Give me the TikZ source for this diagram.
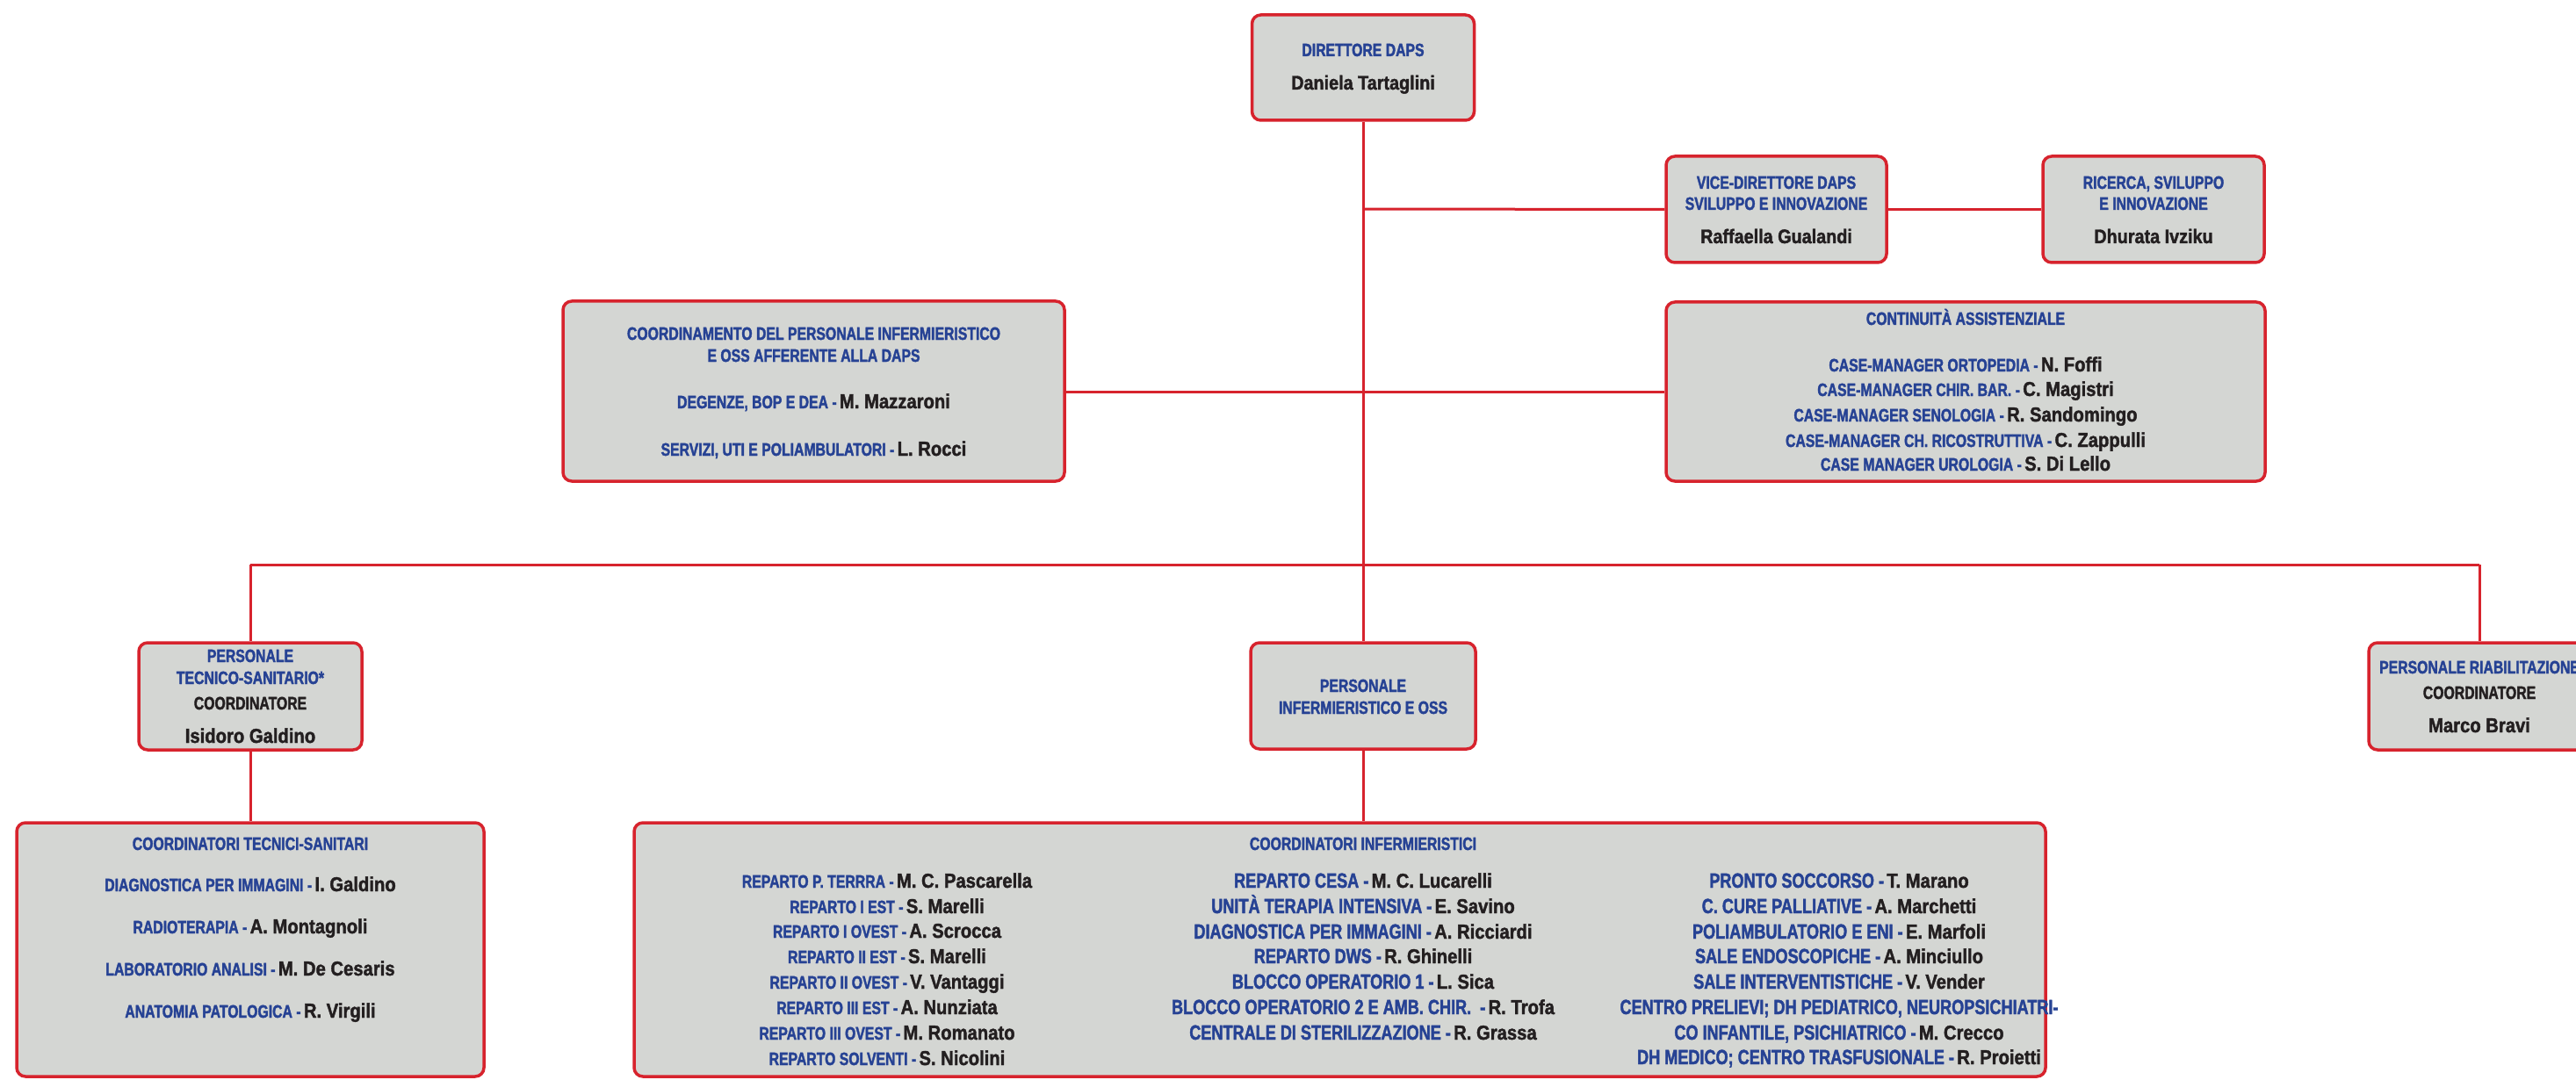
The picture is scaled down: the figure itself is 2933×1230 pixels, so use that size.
\documentclass[tikz,border=0pt]{standalone}
\usepackage{fontspec}
\newfontfamily\tfont[FakeStretch=0.77,FakeBold=1.8]{Liberation Sans Bold}
\newfontfamily\nfont[FakeStretch=0.88,FakeBold=1.6]{Liberation Sans Bold}
\definecolor{tblue}{RGB}{38,66,148}
\definecolor{tred}{RGB}{215,35,45}
\definecolor{tgray}{RGB}{212,214,211}
\definecolor{tblack}{RGB}{35,31,32}
\newcommand\tA{\tfont\fontsize{20.5}{24}\selectfont}
\newcommand\tB{\tfont\fontsize{23.5}{27}\selectfont}
\newcommand\nA{\nfont\fontsize{23}{27}\selectfont}
\newcommand\nB{\nfont\fontsize{22.5}{26}\selectfont}
\newcommand\Bl[1]{{\tA\textcolor{tblue}{#1}}}
\newcommand\Bb[1]{{\tB\textcolor{tblue}{#1}}}
\newcommand\Nm[1]{{\nA\textcolor{tblack}{#1}}}
\newcommand\Nt[1]{{\nB\textcolor{tblack}{#1}}}
\newcommand\Ck[1]{{\tA\textcolor{tblack}{#1}}}
\begin{document}
\begin{tikzpicture}[x=1pt,y=-1pt,
  box/.style={draw=tred,fill=tgray,line width=3.5pt,rounded corners=10pt,inner sep=0pt},
  link/.style={draw=tred,line width=3pt},
  txt/.style={inner sep=0pt,anchor=base}]
\useasboundingbox (0,0) rectangle (2933,1230);
\clip (0,0) rectangle (2933,1230);
\fill[white] (0,0) rectangle (2933,1230);
% boxes
\node[box,minimum width=253pt,minimum height=120pt] (dir) at (1552,77) {};
\node[box,minimum width=251pt,minimum height=121pt] (vice) at (2022.5,238.5) {};
\node[box,minimum width=252pt,minimum height=121pt] (ric) at (2452,238.5) {};
\node[box,minimum width=571pt,minimum height=205pt] (coord) at (926.5,445.5) {};
\node[box,minimum width=682pt,minimum height=204pt] (cont) at (2238,446) {};
\node[box,minimum width=254pt,minimum height=122pt] (ptec) at (285,793) {};
\node[box,minimum width=256pt,minimum height=121pt] (pinf) at (1552,792.5) {};
\node[box,minimum width=252pt,minimum height=122pt] (prib) at (2823,793) {};
\node[box,minimum width=532pt,minimum height=289pt] (ctec) at (285,1081.5) {};
\node[box,minimum width=1607pt,minimum height=289pt] (cinf) at (1525.5,1081.5) {};
% junctions
\coordinate (jv) at (1552,238);
\coordinate (jl) at (285,643);
\coordinate (jr) at (2823,643);
% connectors
\draw[link] (dir.south) -- (pinf.north);
\draw[link] (jv) -- (vice.west);
\draw[link] (vice.east) -- (ric.west);
\draw[link] (coord.east |- cont.west) -- (cont.west);
\draw[link] (jl) -- (jr);
\draw[link] (jl) -- (ptec.north);
\draw[link] (jr) -- (prib.north);
\draw[link] (ptec.south) -- (ctec.north -| ptec.south);
\draw[link] (pinf.south) -- (pinf.south |- cinf.north);
% texts: director
\node[txt] (t1) at (1552,64) {\Bl{DIRETTORE DAPS}};
\node[txt] (t2) at (1552,102) {\Nt{Daniela Tartaglini}};
% vice
\node[txt] (t3) at (2022.5,215) {\Bl{VICE-DIRETTORE DAPS}};
\node[txt] (t4) at (2022.5,239) {\Bl{SVILUPPO E INNOVAZIONE}};
\node[txt] (t5) at (2022.5,277) {\Nt{Raffaella Gualandi}};
% ricerca
\node[txt] (t6) at (2452,215) {\Bl{RICERCA, SVILUPPO}};
\node[txt] (t7) at (2452,239) {\Bl{E INNOVAZIONE}};
\node[txt] (t8) at (2452,277) {\Nt{Dhurata Ivziku}};
% coordinamento
\node[txt] (c1) at (926.5,387) {\Bl{COORDINAMENTO DEL PERSONALE INFERMIERISTICO}};
\node[txt] (c2) at (926.5,412) {\Bl{E OSS AFFERENTE ALLA DAPS}};
\node[txt] (c3) at (926.5,465) {\Bl{DEGENZE, BOP E DEA -} \Nm{M. Mazzaroni}};
\node[txt] (c4) at (926.5,519) {\Bl{SERVIZI, UTI E POLIAMBULATORI -} \Nm{L. Rocci}};
% continuita
\node[txt] (k0) at (2238,370) {\Bl{CONTINUITÀ ASSISTENZIALE}};
\node[txt] (k1) at (2238,423) {\Bl{CASE-MANAGER ORTOPEDIA -} \Nm{N. Foffi}};
\node[txt] (k2) at (2238,451) {\Bl{CASE-MANAGER CHIR. BAR. -} \Nm{C. Magistri}};
\node[txt] (k3) at (2238,480) {\Bl{CASE-MANAGER SENOLOGIA -} \Nm{R. Sandomingo}};
\node[txt] (k4) at (2238,509) {\Bl{CASE-MANAGER CH. RICOSTRUTTIVA -} \Nm{C. Zappulli}};
\node[txt] (k5) at (2238,536) {\Bl{CASE MANAGER UROLOGIA -} \Nm{S. Di Lello}};
% personale tecnico
\node[txt] (p1) at (285,754) {\Bl{PERSONALE}};
\node[txt] (p2) at (285,779) {\Bl{TECNICO-SANITARIO*}};
\node[txt] (p3) at (285,808) {\Ck{COORDINATORE}};
\node[txt] (p4) at (285,846) {\Nm{Isidoro Galdino}};
% personale infermieristico
\node[txt] (q1) at (1552,788) {\Bl{PERSONALE}};
\node[txt] (q2) at (1552,813) {\Bl{INFERMIERISTICO E OSS}};
% personale riabilitazione
\node[txt] (r1) at (2823,767) {\Bl{PERSONALE RIABILITAZIONE}};
\node[txt] (r2) at (2823,796) {\Ck{COORDINATORE}};
\node[txt] (r3) at (2823,834) {\Nm{Marco Bravi}};
% coordinatori tecnici
\node[txt] (s0) at (285,968) {\Bl{COORDINATORI TECNICI-SANITARI}};
\node[txt] (s1) at (285,1015) {\Bl{DIAGNOSTICA PER IMMAGINI -} \Nm{I. Galdino}};
\node[txt] (s2) at (285,1063) {\Bl{RADIOTERAPIA -} \Nm{A. Montagnoli}};
\node[txt] (s3) at (285,1111) {\Bl{LABORATORIO ANALISI -} \Nm{M. De Cesaris}};
\node[txt] (s4) at (285,1159) {\Bl{ANATOMIA PATOLOGICA -} \Nm{R. Virgili}};
% coordinatori infermieristici
\node[txt] (u0) at (1552,968) {\Bl{COORDINATORI INFERMIERISTICI}};
\node[txt] (a1) at (1010,1011) {\Bl{REPARTO P. TERRRA -} \Nm{M. C. Pascarella}};
\node[txt] (a2) at (1010,1040) {\Bl{REPARTO I EST -} \Nm{S. Marelli}};
\node[txt] (a3) at (1010,1068) {\Bl{REPARTO I OVEST -} \Nm{A. Scrocca}};
\node[txt] (a4) at (1010,1097) {\Bl{REPARTO II EST -} \Nm{S. Marelli}};
\node[txt] (a5) at (1010,1126) {\Bl{REPARTO II OVEST -} \Nm{V. Vantaggi}};
\node[txt] (a6) at (1010,1155) {\Bl{REPARTO III EST -} \Nm{A. Nunziata}};
\node[txt] (a7) at (1010,1184) {\Bl{REPARTO III OVEST -} \Nm{M. Romanato}};
\node[txt] (a8) at (1010,1213) {\Bl{REPARTO SOLVENTI -} \Nm{S. Nicolini}};
\node[txt] (b1) at (1552,1011) {\Bb{REPARTO CESA -} \Nm{M. C. Lucarelli}};
\node[txt] (b2) at (1552,1040) {\Bb{UNITÀ TERAPIA INTENSIVA -} \Nm{E. Savino}};
\node[txt] (b3) at (1552,1069) {\Bb{DIAGNOSTICA PER IMMAGINI -} \Nm{A. Ricciardi}};
\node[txt] (b4) at (1552,1097) {\Bb{REPARTO DWS -} \Nm{R. Ghinelli}};
\node[txt] (b5) at (1552,1126) {\Bb{BLOCCO OPERATORIO 1 -} \Nm{L. Sica}};
\node[txt] (b6) at (1552,1155) {\Bb{BLOCCO OPERATORIO 2 E AMB. CHIR.\ \ -} \Nm{R. Trofa}};
\node[txt] (b7) at (1552,1184) {\Bb{CENTRALE DI STERILIZZAZIONE -} \Nm{R. Grassa}};
\node[txt] (d1) at (2094,1011) {\Bb{PRONTO SOCCORSO -} \Nm{T. Marano}};
\node[txt] (d2) at (2094,1040) {\Bb{C. CURE PALLIATIVE -} \Nm{A. Marchetti}};
\node[txt] (d3) at (2094,1069) {\Bb{POLIAMBULATORIO E ENI -} \Nm{E. Marfoli}};
\node[txt] (d4) at (2094,1097) {\Bb{SALE ENDOSCOPICHE -} \Nm{A. Minciullo}};
\node[txt] (d5) at (2094,1126) {\Bb{SALE INTERVENTISTICHE -} \Nm{V. Vender}};
\node[txt] (d6) at (2094,1155) {\Bb{CENTRO PRELIEVI; DH PEDIATRICO, NEUROPSICHIATRI-}};
\node[txt] (d7) at (2094,1184) {\Bb{CO INFANTILE, PSICHIATRICO -} \Nm{M. Crecco}};
\node[txt] (d8) at (2094,1212) {\Bb{DH MEDICO; CENTRO TRASFUSIONALE -} \Nm{R. Proietti}};
\end{tikzpicture}
\end{document}
